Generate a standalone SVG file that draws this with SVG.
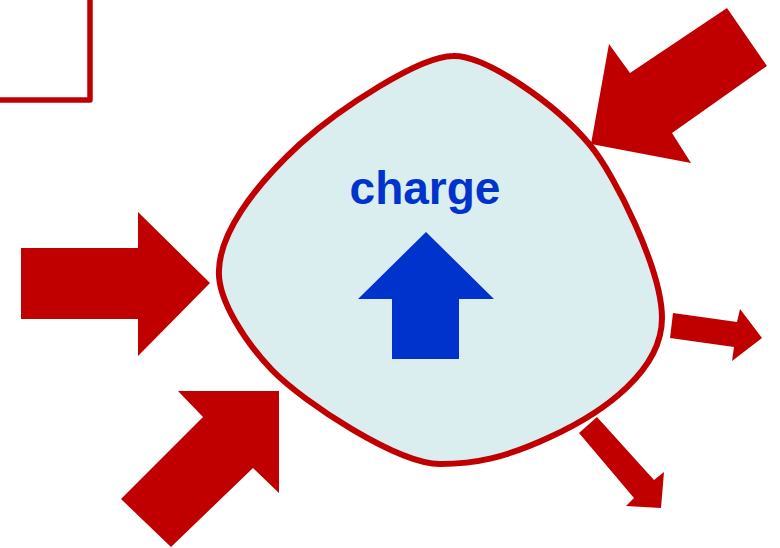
<svg xmlns="http://www.w3.org/2000/svg" width="780" height="548" viewBox="0 0 780 548">
  <style>
    .red { fill: #C00000; stroke: none; }
    .blob { fill: #DAEDEF; stroke: #C00000; stroke-width: 6; }
    .frame { fill: none; stroke: #C00000; stroke-width: 5.5; stroke-linejoin: round; }
    .blue { fill: #0033CC; }
    .label { font-family: "Liberation Sans", Arial, sans-serif; font-weight: bold; font-size: 46px; fill: #0033CC; text-anchor: middle; }
  </style>
  <rect width="780" height="548" fill="#FFFFFF"/>
  <g id="frame">
    <path class="frame" d="M0,100 H90 V-5"/>
  </g>
  <g id="system">
    <path class="blob" d="M453,56 C485,55 555,103 590,145 C615,175 662,270 662,318 C662,370 605,412 550,437 C505,458 475,464 440,464 C398,464 304,403 272,370 C247,344 217,300 219,270 C220,235 250,190 300,144 C340,108 420,56 453,56 Z"/>
    <text class="label" x="425" y="204">charge</text>
    <polygon class="blue" points="426,232 494,299 459,299 459,359 392,359 392,299 358,299"/>
  </g>
  <g id="connectors">
    <polygon class="red" points="727,8 767,66 672,133 691,163 591,144 609,44 630,73"/>
    <polygon class="red" points="21,248 138,248 138,212 210,283 138,356 138,319 21,319"/>
    <polygon class="red" points="178,391 279,391 279,493 253,468 171,547 121,499 203,417"/>
    <polygon class="red" points="673,313 737,322 740,309 762,338 732,361 734,347 670,338"/>
    <polygon class="red" points="597,417 654,480 664,472 661,508 626,506 634,498 579,433"/>
  </g>
</svg>
